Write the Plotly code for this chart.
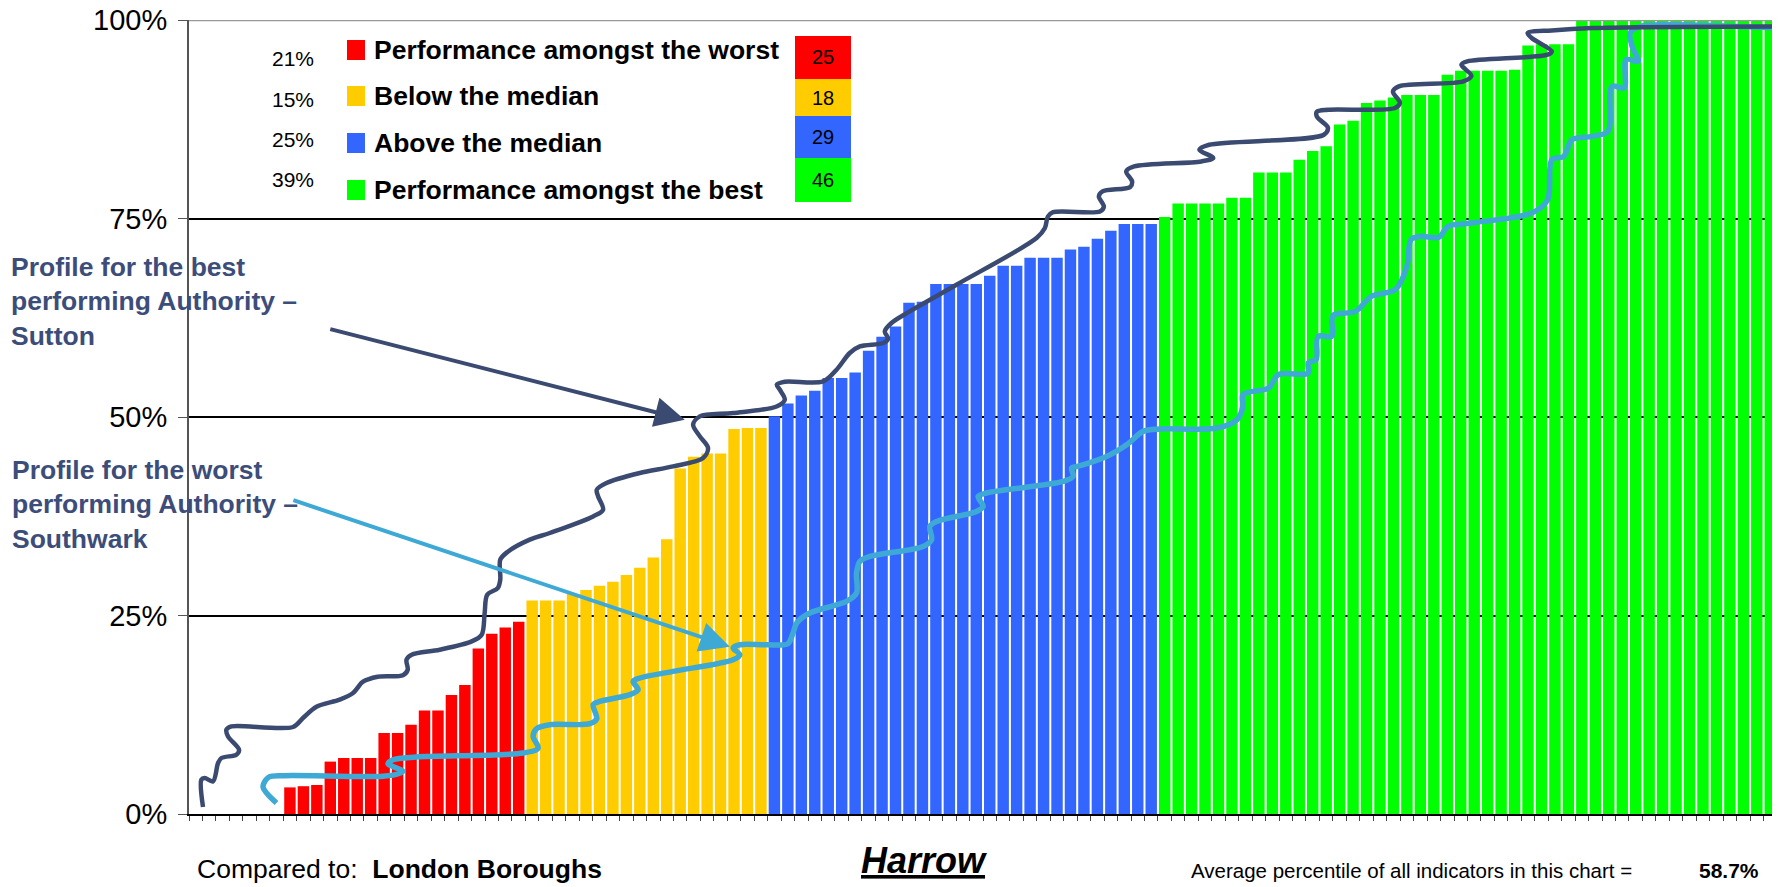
import plotly.graph_objects as go

# percentile of each indicator, sorted, grouped by band
RED_VALUES = [0, 0, 0, 0, 0, 0, 0,
              3.35, 3.5, 3.65, 6.6, 7.05, 7.05, 7.05, 10.2, 10.2, 11.25,
              13.05, 13.05, 15.0, 16.25, 20.85, 22.7, 23.5, 24.2]
YELLOW_VALUES = [26.9, 26.9, 26.9, 27.7, 28.2, 28.75, 29.25, 30.1, 31.0,
                 32.3, 34.6, 43.5, 45.0, 45.4, 45.4, 48.5, 48.6, 48.6]
BLUE_VALUES = [50.1, 51.7, 52.7, 53.3, 54.9, 54.9, 55.6, 58.35, 60.1, 61.4,
               64.4, 64.5, 66.75, 66.75, 66.75, 66.75, 67.8, 69.05, 69.05,
               70.05, 70.05, 70.05, 71.1, 71.45, 72.45, 73.45, 74.3, 74.3, 74.3]
GREEN_VALUES = [75.2, 76.9, 76.9, 76.9, 76.9, 77.6, 77.6, 80.8, 80.8, 80.8,
                82.4, 83.5, 84.1, 86.85, 87.3, 89.55, 89.85, 90.25, 90.55,
                90.55, 90.55, 93.1, 93.6, 93.6, 93.6, 93.6, 93.75, 96.8,
                96.95, 96.95, 96.95, 100, 100, 100, 100, 100, 100, 100, 100,
                100, 100, 100, 100, 100, 100, 100]

BANDS = ["Performance amongst the worst", "Below the median",
         "Above the median", "Performance amongst the best"]
BAND_COLORS = ["#FF0000", "#FFCC00", "#3366FF", "#00FF00"]

Y_TICKS = [0, 25, 50, 75, 100]
Y_TICK_TEXT = ["0%", "25%", "50%", "75%", "100%"]

# profile of the best authority (Sutton): indicator position, percentile
SUTTON_X = [1.54, 1.42, 1.67, 2.28, 2.66, 2.91, 4.02, 4.22, 3.40, 3.28, 3.65,
            8.23, 8.97, 9.97, 11.70, 12.69, 13.43, 14.52, 16.40, 16.75, 16.66,
            17.05, 19.13, 21.51, 22.25, 22.47, 22.66, 23.44, 23.63, 23.63,
            24.19, 25.82, 27.31, 30.53, 31.27, 30.90, 30.80, 31.52, 34.0,
            36.47, 38.70, 39.07, 38.46, 37.96, 38.46, 40.93, 44.16, 44.77,
            44.40, 44.18, 44.77, 47.62, 48.62, 49.60, 50.35, 52.08, 52.45,
            52.20, 52.70, 54.06, 57.53, 63.48, 64.10, 64.32, 64.71, 68.19,
            68.48, 68.11, 68.38, 70.44, 70.58, 70.14, 70.73, 75.72, 76.61,
            75.58, 76.31, 84.83, 85.13, 84.31, 84.31, 85.13, 90.11, 90.48,
            89.96, 90.40, 95.19, 95.79, 95.05, 95.49, 101.46, 101.76, 100.27,
            99.97, 101.76, 104.75, 118.72]
SUTTON_Y = [0.88, 4.32, 4.53, 4.11, 6.42, 7.05, 7.47, 8.10, 9.77, 10.62, 11.03,
            10.96, 12.09, 13.51, 14.40, 15.24, 16.66, 17.29, 17.48, 18.17,
            19.43, 20.06, 20.69, 21.74, 22.58, 25.31, 27.62, 28.44, 29.51,
            32.03, 33.03, 34.55, 35.39, 37.48, 38.32, 40.0, 40.84, 41.69,
            42.95, 43.78, 44.84, 46.10, 47.56, 49.03, 50.08, 50.50, 51.33,
            52.18, 53.44, 54.07, 54.45, 54.48, 55.96, 58.06, 58.89, 59.32,
            59.86, 60.78, 61.84, 63.30, 66.66, 72.54, 73.80, 75.23, 75.79,
            75.89, 76.52, 77.78, 78.41, 78.97, 79.67, 80.93, 81.56, 82.19,
            82.62, 83.67, 84.29, 85.55, 86.44, 87.82, 88.45, 88.70, 88.92,
            89.58, 90.97, 91.64, 92.27, 92.98, 94.37, 94.79, 95.63, 96.05,
            97.73, 98.36, 98.69, 98.99, 99.19]

# profile of the worst authority (Southwark)
SOUTHWARK_X = [7.00, 6.0, 6.42, 7.61, 14.92, 16.16, 16.39, 15.29, 15.66, 17.40,
               25.32, 26.44, 26.07, 26.32, 27.31, 30.28, 30.80, 30.53, 31.02,
               33.25, 33.87, 33.50, 34.0, 36.47, 40.93, 41.43, 40.93, 41.43,
               43.41, 45.0, 45.39, 45.67, 46.63, 49.36, 50.10, 50.10, 50.35,
               51.09, 55.05, 55.68, 55.55, 56.05, 59.02, 59.51, 59.14, 59.76,
               65.46, 66.20, 66.08, 66.45, 68.68, 70.17, 71.40, 72.64, 76.90,
               78.37, 78.81, 78.81, 79.54, 80.72, 81.45, 83.66, 83.66, 84.25,
               84.40, 85.42, 85.42, 85.57, 87.18, 88.36, 90.13, 91.0, 91.30,
               91.97, 93.38, 94.05, 95.79, 100.27, 101.46, 101.76, 102.65,
               103.26, 104.75, 105.94, 106.24, 107.14, 107.29, 108.18, 107.73,
               107.58, 108.33, 110.72, 118.72]
SOUTHWARK_Y = [1.39, 3.44, 4.63, 4.82, 4.76, 5.14, 5.39, 6.34, 6.84, 7.18,
               7.68, 8.31, 9.77, 10.74, 11.25, 11.37, 12.0, 13.77, 14.18,
               15.03, 15.65, 16.70, 17.13, 17.96, 19.43, 20.06, 20.91, 21.32,
               21.32, 21.45, 22.83, 24.09, 25.31, 26.78, 27.83, 30.35, 31.81,
               32.44, 33.70, 34.55, 36.22, 36.85, 38.11, 38.74, 40.0, 40.43,
               41.89, 42.52, 43.58, 43.74, 45.04, 46.51, 48.19, 48.49, 48.61,
               49.66, 51.34, 52.81, 53.22, 53.65, 55.33, 55.54, 56.80, 57.22,
               60.15, 60.15, 62.26, 62.88, 63.30, 65.19, 66.03, 68.97, 72.33,
               72.75, 72.64, 74.0, 74.43, 75.69, 77.37, 82.41, 82.82, 84.92,
               85.34, 85.97, 91.64, 91.44, 95.0, 94.79, 96.68, 98.36, 99.19,
               99.40, 98.99]

AUTHORITY = "Harrow"
COMPARED_TO = "London Boroughs"
AVERAGE_TEXT = "58.7%"

FONT = "Liberation Sans, Arial, sans-serif"
NAVY = "#3B4A70"
SKY = "#3FA9D5"
LABEL_NAVY = "#3D4D7A"

# page body has an 8px margin, so the figure is shrunk by that much
PAGE_PAD = 8
W, H = 1780 - PAGE_PAD, 887 - PAGE_PAD
# plot area in screen pixels, used to place the decorations
L, R, T, B = 189, 1777, 20, 814


def px(x):
    return (x - L) / (R - L)


def py(y):
    return (B - y) / (B - T)


groups = [RED_VALUES, YELLOW_VALUES, BLUE_VALUES, GREEN_VALUES]
total = sum(len(g) for g in groups)

fig = go.Figure()
start = 1
for vals, col, name in zip(groups, BAND_COLORS, BANDS):
    xs = list(range(start, start + len(vals)))
    fig.add_trace(go.Bar(x=xs, y=vals, name=name, marker_color=col,
                         marker_line_width=0, showlegend=False))
    start += len(vals)

fig.add_trace(go.Scatter(x=SOUTHWARK_X, y=SOUTHWARK_Y, mode="lines",
                         line=dict(color=SKY, width=5.5, shape="spline", smoothing=0.9),
                         showlegend=False, hoverinfo="skip"))
fig.add_trace(go.Scatter(x=SUTTON_X, y=SUTTON_Y, mode="lines",
                         line=dict(color=NAVY, width=4.5, shape="spline", smoothing=0.9),
                         showlegend=False, hoverinfo="skip"))

shapes = [dict(type="line", xref="paper", x0=0, x1=1, yref="y", y0=100, y1=100,
               line=dict(color="#999999", width=2.5))]
annotations = []

# custom legend
label_y = [50, 96, 143, 190]
pct_y = [58, 99, 140, 180]
box_y = [(36, 79), (79, 116), (116, 158), (158, 202)]
for i, (vals, col, name) in enumerate(zip(groups, BAND_COLORS, BANDS)):
    n = len(vals)
    shapes.append(dict(type="rect", xref="paper", yref="paper",
                       x0=px(347), x1=px(365), y0=py(label_y[i] + 10), y1=py(label_y[i] - 10),
                       fillcolor=col, line_width=0))
    shapes.append(dict(type="rect", xref="paper", yref="paper",
                       x0=px(795), x1=px(851), y0=py(box_y[i][1]), y1=py(box_y[i][0]),
                       fillcolor=col, line_width=0))
    annotations.append(dict(xref="paper", yref="paper", x=px(823), y=py(sum(box_y[i]) / 2),
                            text=str(n), showarrow=False, xanchor="center", yanchor="middle",
                            font=dict(size=20, color="black", family=FONT)))
    annotations.append(dict(xref="paper", yref="paper", x=px(372), y=py(label_y[i]),
                            text=f"<b>{name}</b>", showarrow=False, xanchor="left",
                            yanchor="middle", font=dict(size=26.5, color="black", family=FONT)))
    annotations.append(dict(xref="paper", yref="paper", x=px(316), y=py(pct_y[i]),
                            text=f"{round(100 * n / total)}%", showarrow=False,
                            xanchor="right", yanchor="middle",
                            font=dict(size=21, color="black", family=FONT)))

# profile labels and arrows
annotations += [
    dict(xref="paper", yref="paper", x=px(9), y=py(301),
         text="<b>Profile for the best<br>performing Authority –<br>Sutton</b>",
         showarrow=False, xanchor="left", yanchor="middle", align="left",
         font=dict(size=26.5, color=LABEL_NAVY, family=FONT)),
    dict(xref="paper", yref="paper", x=px(10), y=py(504),
         text="<b>Profile for the worst<br>performing Authority –<br>Southwark</b>",
         showarrow=False, xanchor="left", yanchor="middle", align="left",
         font=dict(size=26.5, color=LABEL_NAVY, family=FONT)),
    dict(x=37.34, y=49.66, xref="x", yref="y", text="", showarrow=True,
         ax=-356, ay=-91, arrowhead=2, arrowsize=1.5, arrowwidth=4, arrowcolor=NAVY),
    dict(x=40.69, y=21.07, xref="x", yref="y", text="", showarrow=True,
         ax=-438, ay=-147, arrowhead=2, arrowsize=1.5, arrowwidth=4, arrowcolor=SKY),
]

# footer texts
annotations += [
    dict(xref="paper", yref="paper", x=px(195), y=py(869),
         text=f"Compared to:  <b>{COMPARED_TO}</b>", showarrow=False,
         xanchor="left", yanchor="middle", font=dict(size=26.5, color="black", family=FONT)),
    dict(xref="paper", yref="paper", x=px(924), y=py(860),
         text=f"<b><i><u>{AUTHORITY}</u></i></b>", showarrow=False,
         xanchor="center", yanchor="middle", font=dict(size=36, color="black", family=FONT)),
    dict(xref="paper", yref="paper", x=px(1189), y=py(870),
         text="Average percentile of all indicators in this chart =", showarrow=False,
         xanchor="left", yanchor="middle", font=dict(size=20.5, color="black", family=FONT)),
    dict(xref="paper", yref="paper", x=px(1697), y=py(870),
         text=f"<b>{AVERAGE_TEXT}</b>", showarrow=False,
         xanchor="left", yanchor="middle", font=dict(size=21, color="black", family=FONT)),
]

fig.update_layout(
    width=W, height=H,
    margin=dict(l=L - PAGE_PAD, r=1780 - R, t=T - PAGE_PAD, b=887 - B),
    paper_bgcolor="white", plot_bgcolor="white",
    barmode="overlay", bargap=0.15,
    font=dict(family=FONT, color="black"),
    shapes=shapes, annotations=annotations,
    xaxis=dict(range=[0.5, total + 0.5], tickvals=[i + 0.5 for i in range(total)],
               showticklabels=False, ticks="outside", ticklen=5, tickcolor="#444",
               showline=True, linecolor="black", linewidth=2, automargin=False,
               showgrid=False, zeroline=False, fixedrange=True),
    yaxis=dict(range=[0, 100], tickvals=Y_TICKS, ticktext=Y_TICK_TEXT,
               ticks="outside", ticklen=9, tickcolor="#555", ticklabelstandoff=5,
               ticklabeloverflow="allow", automargin=False,
               tickfont=dict(size=29, color="black", family=FONT),
               showline=True, linecolor="#555", linewidth=2,
               showgrid=True, gridcolor="black", gridwidth=1.5,
               zeroline=False, fixedrange=True),
)

fig.write_html("out.html")
